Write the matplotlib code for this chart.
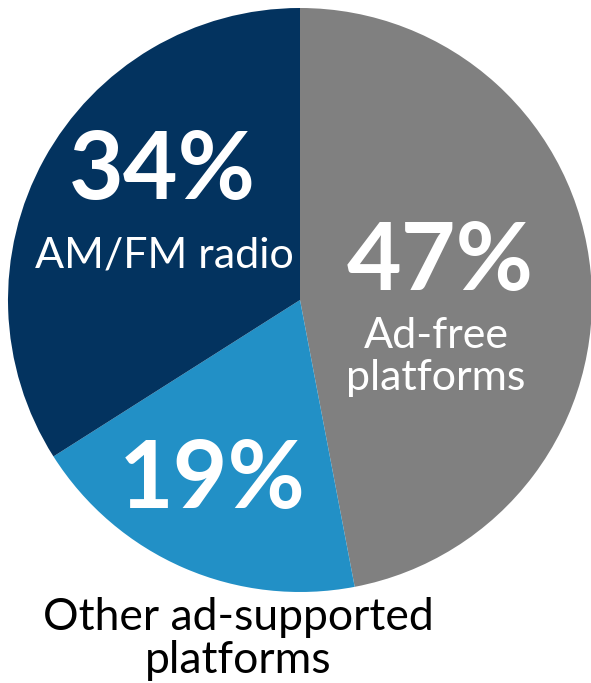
import matplotlib.pyplot as plt

W, H = 591, 683

shares = [47, 19, 34]
names = ['Ad-free\nplatforms', 'Other ad-supported\nplatforms', 'AM/FM radio']
colors = ['#808080', '#2290C6', '#03335F']

plt.rcParams['font.family'] = ['Lato', 'DejaVu Sans']

fig = plt.figure(figsize=(W / 100, H / 100), dpi=100)
# pie box in pixels: left 8, top 8, size 584
ax = fig.add_axes([8 / W, (H - 592) / H, 584 / W, 584 / H])
ax.pie(shares, colors=colors, startangle=90, counterclock=False, radius=1,
       wedgeprops=dict(linewidth=0))
ax.set_xlim(-1, 1)
ax.set_ylim(-1, 1)
ax.set_aspect('equal')
ax.axis('off')


def px(x, y):
    return x / W, 1 - y / H


big = dict(color='white', fontweight='bold', fontsize=68, ha='center', va='center')
small = dict(color='white', fontsize=31, ha='center', va='center')

fig.text(*px(162, 172), f'{shares[2]}%', **big)
fig.text(*px(164, 256), names[2], **small)

fig.text(*px(440, 263), f'{shares[0]}%', **big)
fig.text(*px(436, 357), names[0], linespacing=1.1, **small)

fig.text(*px(212, 481), f'{shares[1]}%', **big)
fig.text(*px(238, 639), names[1], color='black', fontsize=32,
         ha='center', va='center', linespacing=1.05)

fig.savefig('out.png', dpi=100)
